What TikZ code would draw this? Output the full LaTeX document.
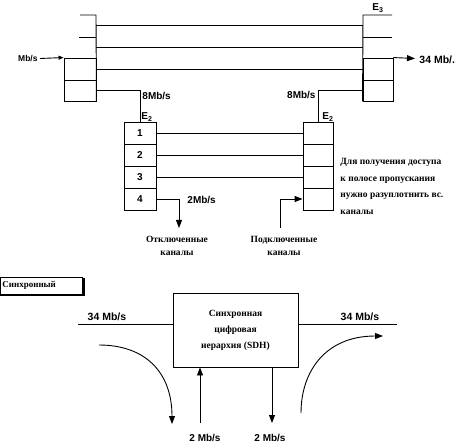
\documentclass[tikz,border=0pt]{standalone}
\usepackage{fontspec}
\setmainfont{Liberation Serif}
\newfontfamily\lab{Liberation Sans}
\usetikzlibrary{arrows.meta}
\begin{document}
\begin{tikzpicture}[x=1pt,y=-1pt, line width=0.9pt,
  cell/.style={draw, minimum width=32pt, minimum height=22pt, inner sep=0pt,
    font=\lab\bfseries\fontsize{10}{12}\selectfont},
  lbl/.style={font=\lab\bfseries\fontsize{10}{12}\selectfont, inner sep=0pt},
  ru/.style={font=\bfseries\fontsize{9.5}{16.5}\selectfont, inner sep=0pt, align=left},
  ruc/.style={font=\bfseries\fontsize{9.5}{13}\selectfont, inner sep=0pt, align=center},
  arr/.style={-{Triangle[length=8pt,width=6pt]}},
  sarr/.style={-{Triangle[length=5pt,width=4pt]}}]
\useasboundingbox (0,0) rectangle (460,446);

% ---------- left E3 ----------
\node[cell] (L3) at (80,69) {};
\node[cell, minimum height=21pt] (L4) at (80,90.5) {};
\coordinate (l1) at (80,15);
\coordinate (l1r) at (96,15);
\coordinate (l2) at (79,37);
\coordinate (l2r) at (96,37);
\draw (l1) -- (l1r) -- (L4.south east);
\draw (l2) -- (l2r);
\coordinate (lin) at (40,58.5);
\node[lbl, anchor=east, font=\lab\bfseries\fontsize{8.5}{10}\selectfont] (linl) at (38,58.5) {Mb/s};
\draw[sarr] (lin) -- (L3.north west);

% ---------- right E3 ----------
\node[cell, minimum width=30pt] (R3) at (378,69) {};
\node[cell, minimum width=30pt, minimum height=21pt] (R4) at (378,90.5) {};
\coordinate (r1) at (392,15);
\coordinate (r1l) at (363,15);
\coordinate (r2) at (392,37);
\coordinate (r2l) at (363,37);
\draw (r1) -- (r1l) -- (R4.south west);
\draw (r2) -- (r2l);
\node[lbl] (E3) at (378,8) {E\textsubscript{3}};
\coordinate (rout) at (415,58.5);
\draw[arr] (R3.north east) -- (rout);
\node[lbl, anchor=west, font=\lab\bfseries\fontsize{10.5}{12}\selectfont] (routl) at (419,60) {34 Mb/.};

% trunk lines
\coordinate (ta) at (96,25);  \coordinate (tA) at (363,25);
\coordinate (tb) at (96,47);  \coordinate (tB) at (363,47);
\draw (ta) -- (tA);
\draw (tb) -- (tB);
\draw (L3.east) -- (R3.west);

% ---------- left E2 ----------
\node[cell] (A1) at (140,133) {1};
\node[cell] (A2) at (140,155) {2};
\node[cell] (A3) at (140,177) {3};
\node[cell] (A4) at (140,199) {4};
\draw (L4.east) -| (A1.north);
\node[lbl, anchor=west] (l8) at (142,96) {8Mb/s};
\node[lbl] (E2a) at (147,117) {E\textsubscript{2}};

% ---------- right E2 ----------
\node[cell, minimum width=30pt] (B1) at (318,133) {};
\node[cell, minimum width=30pt] (B2) at (318,155) {};
\node[cell, minimum width=30pt] (B3) at (318,177) {};
\node[cell, minimum width=30pt] (B4) at (318,199) {};
\draw (R4.west) -| (B1.north);
\node[lbl, anchor=east] (r8) at (316,95) {8Mb/s};
\node[lbl] (E2b) at (328,117) {E\textsubscript{2}};

\draw (A1.east) -- (B1.west);
\draw (A2.east) -- (B2.west);
\draw (A3.east) -- (B3.west);

% drop / add
\coordinate (out4) at (179,228);
\draw[arr] (A4.east) -| (out4);
\node[lbl, anchor=west] (o2) at (187,199.5) {2Mb/s};
\node[ruc] (otk) at (177,246) {Отключенные\\каналы};

\coordinate (in4) at (280,228);
\draw[arr] (in4) |- (B4.west);
\node[ruc] (pod) at (284,246) {Подключенные\\каналы};

\node[ru, anchor=north west] (note) at (340,158) {Для получения доступа\\к полосе пропускания\\нужно разуплотнить вс.\\каналы};

% ---------- bottom ----------
\coordinate (s1) at (0,277);
\coordinate (s2) at (82,294);
\fill (s1 -| s2) ++(0,1) rectangle ++(3,18);
\fill (0,294) rectangle ++(85,1.5);
\draw[line width=0.8pt] (s1) rectangle (s2);
\node[font=\bfseries\fontsize{9}{11}\selectfont, anchor=west, inner sep=0pt] (sync) at (2,285.5) {Синхронный};

\node[draw, minimum width=125pt, minimum height=74pt, inner sep=0pt,
  font=\bfseries\fontsize{9.5}{16}\selectfont, align=center] (SDH) at (235.5,330)
  {Синхронная\\цифровая\\иерархия (SDH)};

\coordinate (inL) at (78,324);
\coordinate (outR) at (397,324);
\draw (inL) -- (inL -| SDH.west);
\draw (SDH.east |- outR) -- (outR);
\node[lbl, font=\lab\bfseries\fontsize{10.5}{12}\selectfont] (in34) at (107,317) {34 Mb/s};
\node[lbl, font=\lab\bfseries\fontsize{10.5}{12}\selectfont] (out34) at (360,317) {34 Mb/s};

\coordinate (c1a) at (99,345);
\coordinate (c1b) at (172,424);
\draw[arr] (c1a) .. controls (145,345) and (172,372) .. (c1b);
\coordinate (c2a) at (301,413);
\coordinate (c2b) at (383,336);
\draw[arr] (c2a) .. controls (301,372) and (325,336) .. (c2b);

\coordinate (uin) at (200,423);
\draw[arr] (uin) -- (uin |- SDH.south);
\coordinate (dout) at (272,423);
\draw[arr] (dout |- SDH.south) -- (dout);
\node[lbl] (u2) at (205,438) {2 Mb/s};
\node[lbl] (d2) at (270,438) {2 Mb/s};
\end{tikzpicture}
\end{document}
